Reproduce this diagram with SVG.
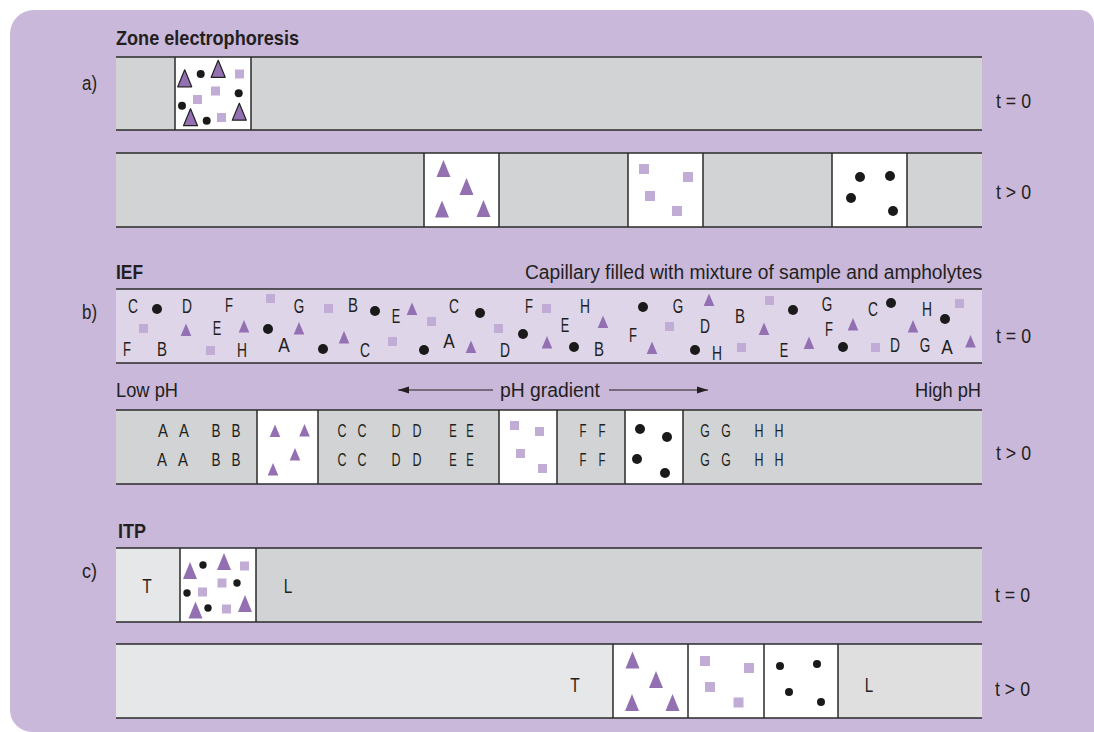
<svg xmlns="http://www.w3.org/2000/svg" xmlns:xlink="http://www.w3.org/1999/xlink" width="1094" height="732" viewBox="0 0 1094 732">
<style>
text{font-family:'Liberation Sans Narrow','Liberation Sans',Arial,sans-serif;fill:#231f20}
.lb{font-size:20px}
.ti{font-size:21px;font-weight:bold}
.lt{font-size:20px;text-anchor:middle}
.lt2{font-size:18px;text-anchor:middle}
.gray{fill:#d1d3d4}
.light{fill:#e6e7e8}
.lav{fill:#ded5e9}
.wh{fill:#ffffff}
.edge{stroke:#2b2b2b;stroke-width:1.5;fill:none}
.t{fill:#9370b2}
.to{fill:#9370b2;stroke:#222;stroke-width:1.2;stroke-linejoin:round}
.s{fill:#c1acd6}
.d{fill:#1a1a1a}
.arr{stroke:#231f20;stroke-width:1.2;fill:none}
</style>
<defs>
<path id="tri" d="M0,-6.5 L5.3,6 L-5.3,6 Z"/>
<path id="triL" d="M0,-8.5 L7,8.5 L-7,8.5 Z"/>
<rect id="sq" x="-4.5" y="-4.5" width="9" height="9"/>
<rect id="sqL" x="-5" y="-5" width="10" height="10"/>
<circle id="dot" r="5"/>
<circle id="dotS" r="4"/>
<circle id="dotXS" r="3.7"/>
<marker id="ah" markerWidth="12" markerHeight="8" refX="11" refY="4" orient="auto" markerUnits="userSpaceOnUse">
<path d="M0,0.5 L11,4 L0,7.5 Z" fill="#231f20"/>
</marker>
</defs>

<path id="panel" d="M34,10 H1080 A14,14 0 0 1 1094,24 V732 H32 A22,22 0 0 1 10,710 V34 A24,24 0 0 1 34,10 Z" fill="#c9b8da"/>

<!-- Section a -->
<g id="title-a"><text class="ti" x="116" y="45" textLength="183" lengthAdjust="spacingAndGlyphs">Zone electrophoresis</text></g>
<g id="label-a"><text class="lb" x="82" y="90" textLength="15" lengthAdjust="spacingAndGlyphs">a)</text></g>

<g id="a-t0">
<rect class="gray" x="116" y="57" width="866" height="73"/>
<rect class="wh" x="175" y="57" width="76" height="73"/>
<path class="edge" d="M175,57V130M251,57V130M116,57H982M116,130H982"/>
<use href="#triL" class="to" x="184.7" y="78.3"/>
<use href="#triL" class="to" x="218.2" y="68.8"/>
<use href="#triL" class="to" x="190.5" y="117.2"/>
<use href="#triL" class="to" x="239.3" y="111.7"/>
<use href="#dotS" class="d" x="200.7" y="74"/>
<use href="#dotS" class="d" x="238.7" y="93.3"/>
<use href="#dotS" class="d" x="182" y="105.7"/>
<use href="#dotS" class="d" x="206.7" y="120.7"/>
<use href="#sq" class="s" x="239.5" y="74"/>
<use href="#sq" class="s" x="215.5" y="91"/>
<use href="#sq" class="s" x="197.5" y="99.5"/>
<use href="#sq" class="s" x="221.5" y="117.5"/>
<text class="lb" x="996" y="108" textLength="35" lengthAdjust="spacingAndGlyphs">t = 0</text>
</g>

<g id="a-t1">
<rect class="gray" x="116" y="153" width="866" height="74"/>
<rect class="wh" x="424" y="153" width="75" height="74"/>
<rect class="wh" x="628" y="153" width="75" height="74"/>
<rect class="wh" x="832" y="153" width="75" height="74"/>
<path class="edge" d="M424,153V227M499,153V227M628,153V227M703,153V227M832,153V227M907,153V227M116,153H982M116,227H982"/>
<use href="#triL" class="t" x="443.5" y="168.5"/>
<use href="#triL" class="t" x="466.5" y="186.5"/>
<use href="#triL" class="t" x="442" y="209"/>
<use href="#triL" class="t" x="483.5" y="208.5"/>
<use href="#sqL" class="s" x="644" y="169"/>
<use href="#sqL" class="s" x="688" y="177"/>
<use href="#sqL" class="s" x="650" y="196"/>
<use href="#sqL" class="s" x="677" y="211"/>
<use href="#dot" class="d" x="860" y="177"/>
<use href="#dot" class="d" x="890" y="176"/>
<use href="#dot" class="d" x="851" y="198"/>
<use href="#dot" class="d" x="893" y="211"/>
<text class="lb" x="996" y="199" textLength="35" lengthAdjust="spacingAndGlyphs">t &gt; 0</text>
</g>

<!-- Section b -->
<g id="title-b"><text class="ti" x="116" y="279" textLength="27" lengthAdjust="spacingAndGlyphs">IEF</text></g>
<g id="caption-b"><text class="lb" x="525" y="279" textLength="457" lengthAdjust="spacingAndGlyphs">Capillary filled with mixture of sample and ampholytes</text></g>
<g id="label-b"><text class="lb" x="82" y="319" textLength="15" lengthAdjust="spacingAndGlyphs">b)</text></g>

<g id="b-t0">
<rect class="lav" x="116" y="289" width="866" height="74"/>
<path class="edge" d="M116,289H982M116,363H982"/>
<use href="#dot" class="d" x="157" y="309"/>
<use href="#dot" class="d" x="375" y="311"/>
<use href="#dot" class="d" x="480" y="313"/>
<use href="#dot" class="d" x="268" y="329"/>
<use href="#dot" class="d" x="523" y="334"/>
<use href="#dot" class="d" x="323" y="349"/>
<use href="#dot" class="d" x="424" y="350"/>
<use href="#dot" class="d" x="643" y="307"/>
<use href="#dot" class="d" x="793" y="310"/>
<use href="#dot" class="d" x="891" y="303"/>
<use href="#dot" class="d" x="945" y="319"/>
<use href="#dot" class="d" x="574" y="347"/>
<use href="#dot" class="d" x="695" y="350"/>
<use href="#dot" class="d" x="843" y="347"/>
<use href="#sq" class="s" x="143.5" y="328.5"/>
<use href="#sq" class="s" x="270.5" y="298.5"/>
<use href="#sq" class="s" x="328.5" y="308.5"/>
<use href="#sq" class="s" x="210.5" y="350.5"/>
<use href="#sq" class="s" x="392.5" y="341.5"/>
<use href="#sq" class="s" x="431.5" y="321.5"/>
<use href="#sq" class="s" x="498.5" y="328.5"/>
<use href="#sq" class="s" x="546.5" y="308.5"/>
<use href="#sq" class="s" x="669.5" y="326.5"/>
<use href="#sq" class="s" x="769.5" y="300.5"/>
<use href="#sq" class="s" x="741.5" y="347.5"/>
<use href="#sq" class="s" x="875.5" y="347.5"/>
<use href="#sq" class="s" x="959.5" y="303.5"/>
<use href="#tri" class="t" x="412" y="309"/>
<use href="#tri" class="t" x="186" y="330"/>
<use href="#tri" class="t" x="244" y="326.5"/>
<use href="#tri" class="t" x="299" y="328.5"/>
<use href="#tri" class="t" x="344" y="337.5"/>
<use href="#tri" class="t" x="547" y="342.5"/>
<use href="#tri" class="t" x="471" y="347"/>
<use href="#tri" class="t" x="603" y="322"/>
<use href="#tri" class="t" x="709" y="300"/>
<use href="#tri" class="t" x="764" y="329"/>
<use href="#tri" class="t" x="853" y="324.5"/>
<use href="#tri" class="t" x="913" y="326.5"/>
<use href="#tri" class="t" x="652" y="348"/>
<use href="#tri" class="t" x="809" y="343"/>
<use href="#tri" class="t" x="970.5" y="341.5"/>
<text class="lt" x="133" y="313" textLength="10" lengthAdjust="spacingAndGlyphs">C</text>
<text class="lt" x="187" y="313" textLength="10" lengthAdjust="spacingAndGlyphs">D</text>
<text class="lt" x="229" y="312" textLength="8" lengthAdjust="spacingAndGlyphs">F</text>
<text class="lt" x="299" y="313" textLength="10.5" lengthAdjust="spacingAndGlyphs">G</text>
<text class="lt" x="353" y="312" textLength="10" lengthAdjust="spacingAndGlyphs">B</text>
<text class="lt" x="396" y="323" textLength="8.5" lengthAdjust="spacingAndGlyphs">E</text>
<text class="lt" x="454" y="313" textLength="10" lengthAdjust="spacingAndGlyphs">C</text>
<text class="lt" x="529" y="313" textLength="8" lengthAdjust="spacingAndGlyphs">F</text>
<text class="lt" x="585" y="313" textLength="10" lengthAdjust="spacingAndGlyphs">H</text>
<text class="lt" x="678" y="313" textLength="10.5" lengthAdjust="spacingAndGlyphs">G</text>
<text class="lt" x="827" y="311" textLength="10.5" lengthAdjust="spacingAndGlyphs">G</text>
<text class="lt" x="873" y="316" textLength="10" lengthAdjust="spacingAndGlyphs">C</text>
<text class="lt" x="927" y="316" textLength="10" lengthAdjust="spacingAndGlyphs">H</text>
<text class="lt" x="217" y="335" textLength="8.5" lengthAdjust="spacingAndGlyphs">E</text>
<text class="lt" x="565" y="332" textLength="8.5" lengthAdjust="spacingAndGlyphs">E</text>
<text class="lt" x="633" y="342" textLength="8" lengthAdjust="spacingAndGlyphs">F</text>
<text class="lt" x="705" y="333" textLength="10" lengthAdjust="spacingAndGlyphs">D</text>
<text class="lt" x="740" y="323" textLength="10" lengthAdjust="spacingAndGlyphs">B</text>
<text class="lt" x="829" y="336" textLength="8" lengthAdjust="spacingAndGlyphs">F</text>
<text class="lt" x="127" y="356" textLength="8" lengthAdjust="spacingAndGlyphs">F</text>
<text class="lt" x="162" y="356" textLength="10" lengthAdjust="spacingAndGlyphs">B</text>
<text class="lt" x="242" y="357" textLength="10" lengthAdjust="spacingAndGlyphs">H</text>
<text class="lt" x="284" y="352" textLength="11.5" lengthAdjust="spacingAndGlyphs">A</text>
<text class="lt" x="365" y="357" textLength="10" lengthAdjust="spacingAndGlyphs">C</text>
<text class="lt" x="449" y="348" textLength="11.5" lengthAdjust="spacingAndGlyphs">A</text>
<text class="lt" x="505" y="357" textLength="10" lengthAdjust="spacingAndGlyphs">D</text>
<text class="lt" x="599" y="356" textLength="10" lengthAdjust="spacingAndGlyphs">B</text>
<text class="lt" x="717" y="360" textLength="10" lengthAdjust="spacingAndGlyphs">H</text>
<text class="lt" x="784" y="357" textLength="8.5" lengthAdjust="spacingAndGlyphs">E</text>
<text class="lt" x="895" y="352" textLength="10" lengthAdjust="spacingAndGlyphs">D</text>
<text class="lt" x="925" y="352" textLength="10.5" lengthAdjust="spacingAndGlyphs">G</text>
<text class="lt" x="947" y="354" textLength="11.5" lengthAdjust="spacingAndGlyphs">A</text>
<text class="lb" x="996" y="343" textLength="35" lengthAdjust="spacingAndGlyphs">t = 0</text>
</g>

<g id="low-ph"><text class="lb" x="116" y="397" textLength="62" lengthAdjust="spacingAndGlyphs">Low pH</text></g>
<g id="ph-gradient"><text class="lb" x="500" y="397" textLength="100" lengthAdjust="spacingAndGlyphs">pH gradient</text></g>
<g id="high-ph"><text class="lb" x="915" y="397" textLength="66" lengthAdjust="spacingAndGlyphs">High pH</text></g>

<g id="connectors">
<line class="arr" x1="493" y1="390" x2="398" y2="390" marker-end="url(#ah)"/>
<line class="arr" x1="609" y1="390" x2="708" y2="390" marker-end="url(#ah)"/>
</g>

<g id="b-t1">
<rect class="gray" x="116" y="410" width="866" height="74"/>
<rect class="wh" x="257" y="410" width="61" height="74"/>
<rect class="wh" x="499" y="410" width="58" height="74"/>
<rect class="wh" x="625" y="410" width="58" height="74"/>
<path class="edge" d="M257,410V484M318,410V484M499,410V484M557,410V484M625,410V484M683,410V484M116,410H982M116,484H982"/>
<use href="#tri" class="t" x="275" y="431"/>
<use href="#tri" class="t" x="304.5" y="430.5"/>
<use href="#tri" class="t" x="295" y="454.5"/>
<use href="#tri" class="t" x="273" y="469.5"/>
<use href="#sq" class="s" x="514.5" y="425.5"/>
<use href="#sq" class="s" x="539.5" y="431.5"/>
<use href="#sq" class="s" x="520.5" y="453.5"/>
<use href="#sq" class="s" x="542.5" y="468.5"/>
<use href="#dot" class="d" x="640" y="429"/>
<use href="#dot" class="d" x="667" y="437"/>
<use href="#dot" class="d" x="637" y="459"/>
<use href="#dot" class="d" x="665" y="473"/>
<text class="lt2" x="163" y="437" textLength="10" lengthAdjust="spacingAndGlyphs">A</text><text class="lt2" x="184" y="437" textLength="10" lengthAdjust="spacingAndGlyphs">A</text>
<text class="lt2" x="216" y="437" textLength="9" lengthAdjust="spacingAndGlyphs">B</text><text class="lt2" x="236" y="437" textLength="9" lengthAdjust="spacingAndGlyphs">B</text>
<text class="lt2" x="342" y="437" textLength="9" lengthAdjust="spacingAndGlyphs">C</text><text class="lt2" x="362" y="437" textLength="9" lengthAdjust="spacingAndGlyphs">C</text>
<text class="lt2" x="396" y="437" textLength="9" lengthAdjust="spacingAndGlyphs">D</text><text class="lt2" x="417" y="437" textLength="9" lengthAdjust="spacingAndGlyphs">D</text>
<text class="lt2" x="453" y="437" textLength="7.5" lengthAdjust="spacingAndGlyphs">E</text><text class="lt2" x="470" y="437" textLength="7.5" lengthAdjust="spacingAndGlyphs">E</text>
<text class="lt2" x="583" y="437" textLength="7" lengthAdjust="spacingAndGlyphs">F</text><text class="lt2" x="602" y="437" textLength="7" lengthAdjust="spacingAndGlyphs">F</text>
<text class="lt2" x="705" y="437" textLength="9.5" lengthAdjust="spacingAndGlyphs">G</text><text class="lt2" x="726" y="437" textLength="9.5" lengthAdjust="spacingAndGlyphs">G</text>
<text class="lt2" x="759" y="437" textLength="9" lengthAdjust="spacingAndGlyphs">H</text><text class="lt2" x="779" y="437" textLength="9" lengthAdjust="spacingAndGlyphs">H</text>
<text class="lt2" x="162" y="466" textLength="10" lengthAdjust="spacingAndGlyphs">A</text><text class="lt2" x="183" y="466" textLength="10" lengthAdjust="spacingAndGlyphs">A</text>
<text class="lt2" x="216" y="466" textLength="9" lengthAdjust="spacingAndGlyphs">B</text><text class="lt2" x="236" y="466" textLength="9" lengthAdjust="spacingAndGlyphs">B</text>
<text class="lt2" x="342" y="466" textLength="9" lengthAdjust="spacingAndGlyphs">C</text><text class="lt2" x="362" y="466" textLength="9" lengthAdjust="spacingAndGlyphs">C</text>
<text class="lt2" x="396" y="466" textLength="9" lengthAdjust="spacingAndGlyphs">D</text><text class="lt2" x="417" y="466" textLength="9" lengthAdjust="spacingAndGlyphs">D</text>
<text class="lt2" x="453" y="466" textLength="7.5" lengthAdjust="spacingAndGlyphs">E</text><text class="lt2" x="470" y="466" textLength="7.5" lengthAdjust="spacingAndGlyphs">E</text>
<text class="lt2" x="583" y="466" textLength="7" lengthAdjust="spacingAndGlyphs">F</text><text class="lt2" x="602" y="466" textLength="7" lengthAdjust="spacingAndGlyphs">F</text>
<text class="lt2" x="705" y="466" textLength="9.5" lengthAdjust="spacingAndGlyphs">G</text><text class="lt2" x="726" y="466" textLength="9.5" lengthAdjust="spacingAndGlyphs">G</text>
<text class="lt2" x="759" y="466" textLength="9" lengthAdjust="spacingAndGlyphs">H</text><text class="lt2" x="779" y="466" textLength="9" lengthAdjust="spacingAndGlyphs">H</text>
<text class="lb" x="996" y="460" textLength="35" lengthAdjust="spacingAndGlyphs">t &gt; 0</text>
</g>

<!-- Section c -->
<g id="title-c"><text class="ti" x="118" y="538" textLength="28" lengthAdjust="spacingAndGlyphs">ITP</text></g>
<g id="label-c"><text class="lb" x="82" y="578" textLength="15" lengthAdjust="spacingAndGlyphs">c)</text></g>

<g id="c-t0">
<rect class="light" x="116" y="548" width="64" height="74"/>
<rect class="wh" x="180" y="548" width="76" height="74"/>
<rect class="gray" x="256" y="548" width="726" height="74"/>
<path class="edge" d="M180,548V622M256,548V622M116,548H982M116,622H982"/>
<use href="#triL" class="t" x="190" y="570.5"/>
<use href="#triL" class="t" x="224" y="561.5"/>
<use href="#triL" class="t" x="195.5" y="610"/>
<use href="#triL" class="t" x="245" y="603.5"/>
<use href="#dotXS" class="d" x="203" y="565"/>
<use href="#dotXS" class="d" x="237" y="583"/>
<use href="#dotXS" class="d" x="187" y="593"/>
<use href="#dotXS" class="d" x="208" y="608"/>
<use href="#sq" class="s" x="244.5" y="566"/>
<use href="#sq" class="s" x="222" y="583"/>
<use href="#sq" class="s" x="202.5" y="592"/>
<use href="#sq" class="s" x="226.5" y="609"/>
<text class="lt" x="147" y="593" textLength="9.5" lengthAdjust="spacingAndGlyphs">T</text>
<text class="lt" x="288" y="593" textLength="8.5" lengthAdjust="spacingAndGlyphs">L</text>
<text class="lb" x="995" y="602" textLength="35" lengthAdjust="spacingAndGlyphs">t = 0</text>
</g>

<g id="c-t1">
<rect class="light" x="116" y="644" width="497" height="74"/>
<rect class="wh" x="613" y="644" width="225" height="74"/>
<rect x="838" y="644" width="144" height="74" fill="#dfdfe0"/>
<path class="edge" d="M613,644V718M688,644V718M764,644V718M838,644V718M116,644H982M116,718H982"/>
<use href="#triL" class="t" x="632.5" y="660"/>
<use href="#triL" class="t" x="656" y="679.5"/>
<use href="#triL" class="t" x="632" y="702.5"/>
<use href="#triL" class="t" x="672.5" y="702.5"/>
<use href="#sqL" class="s" x="705" y="661"/>
<use href="#sqL" class="s" x="749" y="668"/>
<use href="#sqL" class="s" x="710" y="687"/>
<use href="#sqL" class="s" x="738.5" y="702.5"/>
<use href="#dotS" class="d" x="780" y="666"/>
<use href="#dotS" class="d" x="817" y="664"/>
<use href="#dotS" class="d" x="789" y="692"/>
<use href="#dotS" class="d" x="821" y="702"/>
<text class="lt" x="575" y="692" textLength="9.5" lengthAdjust="spacingAndGlyphs">T</text>
<text class="lt" x="869" y="692" textLength="8.5" lengthAdjust="spacingAndGlyphs">L</text>
<text class="lb" x="995" y="696" textLength="35" lengthAdjust="spacingAndGlyphs">t &gt; 0</text>
</g>
</svg>
